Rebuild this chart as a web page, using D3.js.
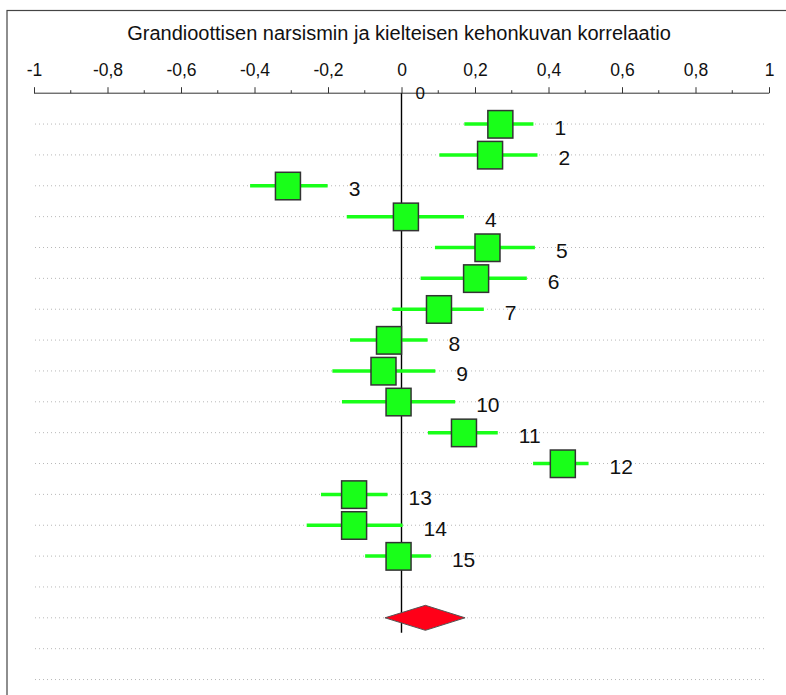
<!DOCTYPE html>
<html><head><meta charset="utf-8">
<script src="https://cdn.jsdelivr.net/npm/d3@7"></script>
<style>html,body{margin:0;padding:0;background:#fff;}svg{display:block;}</style>
</head><body>
<svg id="c" width="786" height="695"></svg>
<script>
const title = "Grandioottisen narsismin ja kielteisen kehonkuvan korrelaatio";
const tickValues = [-1,-0.8,-0.6,-0.4,-0.2,0,0.2,0.4,0.6,0.8,1];
const tickLabels = ["-1","-0,8","-0,6","-0,4","-0,2","0","0,2","0,4","0,6","0,8","1"];
const studyLabels = ["1","2","3","4","5","6","7","8","9","10","11","12","13","14","15"];
const estimates = [0.269,0.241,-0.309,0.012,0.234,0.203,0.102,-0.034,-0.049,-0.008,0.170,0.439,-0.129,-0.129,-0.008];
const lower =     [0.171,0.103,-0.412,-0.149,0.091,0.052,-0.025,-0.140,-0.188,-0.162,0.072,0.358,-0.219,-0.258,-0.099];
const upper =     [0.359,0.370,-0.201,0.170,0.363,0.341,0.224,0.071,0.092,0.146,0.262,0.509,-0.038,0.003,0.080];
const pooled = [-0.045, 0.065, 0.173]; // lower, estimate, upper
const headerLabel = "0";
const pooledRow = 17;
const nRows = 19;

const svg = d3.select("#c");
const x = d3.scaleLinear().domain([-1,1]).range([34,769]);
const y = d3.scaleLinear().domain([0,nRows]).range([93.2, 93.2 + nRows*30.86]);
const FONT = "Liberation Sans, Arial, sans-serif";

// frame
svg.append("rect").attr("x",7).attr("y",10.5).attr("width",820).attr("height",720)
  .attr("fill","none").attr("stroke","#444").attr("stroke-width",1.2);

// title
const t = svg.append("text").attr("x",399).attr("y",39.5).attr("text-anchor","middle")
  .attr("font-family",FONT).attr("font-size",20).attr("fill","#111").text(title);

// grid lines
svg.append("g").selectAll("line").data(d3.range(1,nRows+1)).join("line")
  .attr("x1",35).attr("x2",766).attr("y1",d=>y(d)).attr("y2",d=>y(d))
  .attr("stroke","#b8b8b8").attr("stroke-width",1).attr("stroke-dasharray","1,3");

// axis
const axis = d3.axisTop(x).tickValues(tickValues).tickFormat((d,i)=>tickLabels[i]).tickSize(6).tickPadding(11);
const ag = svg.append("g").attr("transform",`translate(0,${y(0)})`).call(axis);
ag.select(".domain").attr("stroke","#333").attr("d",`M${x(-1)},0H${x(1)}`);
ag.selectAll(".tick line").attr("stroke","#333");
ag.selectAll(".tick text").attr("font-family",FONT).attr("font-size",17.5).attr("fill","#111");
// minor ticks
svg.append("g").selectAll("line").data(d3.range(-0.9,1,0.2)).join("line")
  .attr("x1",d=>x(d)).attr("x2",d=>x(d)).attr("y1",y(0)-3).attr("y2",y(0))
  .attr("stroke","#333");

// zero line
svg.append("line").attr("x1",x(0)).attr("x2",x(0)).attr("y1",y(0)).attr("y2",y(pooledRow)+15)
  .attr("stroke","#000").attr("stroke-width",1.4);

// header label
svg.append("text").attr("x",x(0)+14).attr("y",y(0)+6).attr("font-family",FONT)
  .attr("font-size",17).attr("fill","#111").text(headerLabel);

const rows = studyLabels.map((l,i)=>({label:l,row:i+1,est:estimates[i],lo:lower[i],hi:upper[i]}));

const g = svg.append("g");
g.selectAll("line.ci").data(rows).join("line").attr("class","ci")
  .attr("x1",d=>x(d.lo)).attr("x2",d=>x(d.hi)).attr("y1",d=>y(d.row)).attr("y2",d=>y(d.row))
  .attr("stroke","#19ff19").attr("stroke-width",3.5);
g.selectAll("rect").data(rows).join("rect")
  .attr("x",d=>x(d.est)-12.5).attr("y",d=>y(d.row)-13.5).attr("width",25).attr("height",27.5)
  .attr("fill","#19ff19").attr("stroke","#333").attr("stroke-width",1.5);
g.selectAll("text").data(rows).join("text")
  .attr("x",d=>x(d.hi)+21).attr("y",d=>y(d.row)+10.5)
  .attr("font-family",FONT).attr("font-size",21).attr("fill","#111")
  .text(d=>d.label);

// pooled diamond
const py = y(pooledRow);
svg.append("path")
  .attr("d",`M${x(pooled[0])},${py}L${x(pooled[1])},${py-12.5}L${x(pooled[2])},${py}L${x(pooled[1])},${py+12.5}Z`)
  .attr("fill","#ff0018").attr("stroke","#555").attr("stroke-width",1);
</script>
</body></html>
